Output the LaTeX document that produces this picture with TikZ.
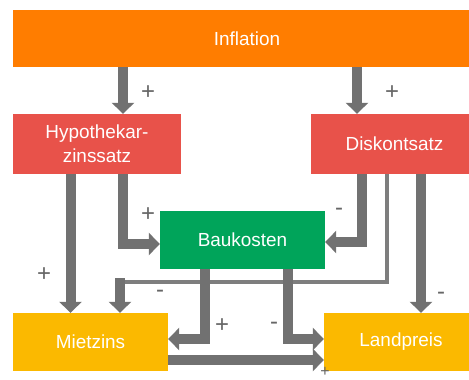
\documentclass[tikz,border=0pt]{standalone}
\usepackage{fontspec}
\setmainfont{Liberation Sans}
\usetikzlibrary{arrows.meta}
\definecolor{cOrange}{HTML}{FF7D00}
\definecolor{cRed}{HTML}{E8524A}
\definecolor{cGreen}{HTML}{00A45A}
\definecolor{cYellow}{HTML}{FBB900}
\definecolor{arrgray}{HTML}{717171}
\definecolor{thingray}{HTML}{7E7E7E}
\definecolor{lblgray}{HTML}{666666}
\begin{document}
\begin{tikzpicture}[x=1bp,y=-1bp,
  box/.style={draw=none, inner sep=0pt, text=white, font=\fontsize{19}{24}\selectfont, align=center},
  arr/.style={draw=arrgray, line width=10bp, -{Triangle[width=22bp,length=11bp]}},
  thinline/.style={draw=thingray, line width=4bp},
  lbl/.style={text=lblgray, font=\fontsize{24}{26}\selectfont, inner sep=0pt}]
\useasboundingbox (0,0) rectangle (469,379);
\fill[white] (0,0) rectangle (469,379);
% boxes
\node[box, fill=cOrange, minimum width=456bp, minimum height=57bp] (inf) at (241,38.5) {\hspace*{12bp}Inflation};
\node[box, fill=cRed, minimum width=168bp, minimum height=60bp] (hyp) at (97,144) {Hypothekar-\\zinssatz};
\node[box, fill=cRed, minimum width=158bp, minimum height=60bp] (dis) at (390,144) {\hspace*{9bp}Diskontsatz};
\node[box, fill=cGreen, minimum width=165bp, minimum height=58bp] (bau) at (242.5,240) {Baukosten};
\node[box, fill=cYellow, minimum width=155bp, minimum height=58bp] (mie) at (90.5,342) {Mietzins};
\node[box, fill=cYellow, minimum width=145bp, minimum height=58bp] (lan) at (396.5,342) {\hspace*{9bp}Landpreis};
% helper coordinates
\coordinate (xa) at (123,0);
\coordinate (xb) at (357,0);
\coordinate (xc) at (70.5,0);
\coordinate (xd) at (362,0);
\coordinate (xe) at (387,0);
\coordinate (xg) at (421,0);
\coordinate (xh) at (204.5,0);
\coordinate (xi) at (287.5,0);
\coordinate (ya) at (0,244);
\coordinate (yb) at (0,242);
\coordinate (yc) at (0,282);
\coordinate (yd) at (0,339);
\coordinate (ye) at (0,360);
\coordinate (tstart) at (120,278);
% thin connector
\draw[thinline] (dis.south -| xe) |- (tstart |- yc);
% arrows
\draw[arr] (inf.south -| xa) -- (hyp.north -| xa);
\draw[arr] (inf.south -| xb) -- (dis.north -| xb);
\draw[arr] (hyp.south -| xc) -- (mie.north -| xc);
\draw[arr] (hyp.south -| xa) |- (bau.west |- ya);
\draw[arr] (dis.south -| xd) |- (bau.east |- yb);
\draw[arr] (tstart) -- (mie.north -| tstart);
\draw[arr] (dis.south -| xg) -- (lan.north -| xg);
\draw[arr] (bau.south -| xh) |- (mie.east |- yd);
\draw[arr] (bau.south -| xi) |- (lan.west |- yd);
\draw[arr] (mie.east |- ye) -- (lan.west |- ye);
% labels
\node[lbl] (l1) at (148,93) {+};
\node[lbl] (l2) at (392,93) {+};
\node[lbl] (l3) at (148,215) {+};
\node[lbl] (l4) at (44,275) {+};
\node[lbl] (l5) at (160,294) {-};
\node[lbl] (l6) at (222,326) {+};
\node[lbl] (l7) at (339,212) {-};
\node[lbl] (l8) at (274,326) {-};
\node[lbl] (l9) at (441,296) {-};
\node[lbl, font=\fontsize{16}{18}\selectfont] (l10) at (325,371.5) {+};
\end{tikzpicture}
\end{document}
